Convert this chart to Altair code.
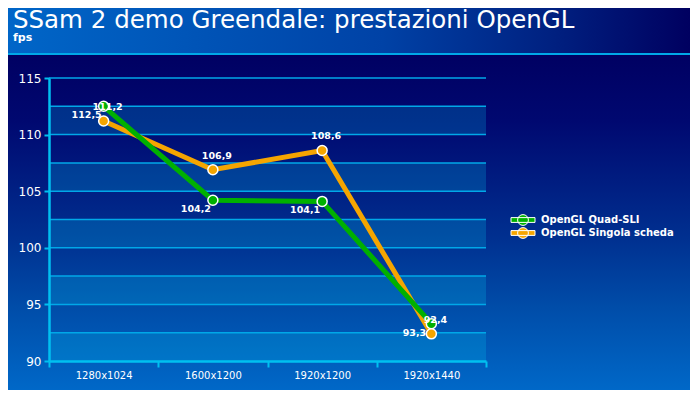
import altair as alt
import pandas as pd

# ---------------- data ----------------
resolutions = ["1280x1024", "1600x1200", "1920x1200", "1920x1440"]
series_names = ["OpenGL Quad-SLI", "OpenGL Singola scheda"]
quad_sli = [112.5, 104.2, 104.1, 93.3]
singola = [111.2, 106.9, 108.6, 92.4]
series_colors = ["#00b000", "#f5a500"]

y_ticks = [90, 95, 100, 105, 110, 115]
grid_levels = [92.5, 95, 97.5, 100, 102.5, 105, 107.5, 110, 112.5, 115]
stripe_low = [90, 95, 100, 105, 110]
stripe_high = [92.5, 97.5, 102.5, 107.5, 112.5]

title_text = "SSam 2 demo Greendale: prestazioni OpenGL"
subtitle_text = "fps"

FONT = "DejaVu Sans"
W, H = 437, 283
PAD = {"left": 41, "top": 70, "right": 204, "bottom": 29}

rows = []
for name, vals in zip(series_names, [quad_sli, singola]):
    for r, v in zip(resolutions, vals):
        rows.append({"res": r, "fps": v, "serie": name,
                     "label": f"{v:.1f}".replace(".", ",")})
df = pd.DataFrame(rows)
stripes_df = pd.DataFrame({"lo": stripe_low, "hi": stripe_high})
grid_df = pd.DataFrame({"g": grid_levels})
one = pd.DataFrame({"k": [0]})

y_scale = alt.Scale(domain=[90, 115], nice=False, zero=False)
x_scale = alt.Scale(type="band", domain=resolutions, paddingInner=0, paddingOuter=0)

y_axis = alt.Axis(values=y_ticks, domainColor="#00c0f0", domainWidth=2.5,
                  tickColor="#00c0f0", tickWidth=2, tickSize=5,
                  labelColor="white", labelFont=FONT, labelFontSize=12,
                  labelPadding=3, grid=False, zindex=1, title=None)
x_axis = alt.Axis(tickBand="extent", domainColor="#00c0f0", domainWidth=2.5,
                  tickColor="#00c0f0", tickWidth=2, tickSize=6,
                  labelColor="white", labelFont=FONT, labelFontSize=10,
                  labelPadding=3, labelAngle=0, grid=False, zindex=1, title=None)


def grad(stops, horizontal):
    return alt.Gradient(
        gradient="linear",
        stops=[alt.GradientStop(color=c, offset=o) for o, c in stops],
        x1=0, y1=0, x2=1 if horizontal else 0, y2=0 if horizontal else 1,
    )


# ---------------- background decoration ----------------
bg_header = alt.Chart(one).mark_rect(
    fill=grad([(0, "#0066c8"), (0.55, "#0042a6"), (0.8, "#002080"), (1, "#000060")], True)
).encode(x=alt.value(-PAD["left"]), x2=alt.value(W + PAD["right"]),
         y=alt.value(-PAD["top"]), y2=alt.value(-25))

bg_body = alt.Chart(one).mark_rect(
    fill=grad([(0, "#000062"), (0.2, "#000870"), (0.55, "#003090"),
               (0.75, "#004ca8"), (1, "#0068c8")], False)
).encode(x=alt.value(-PAD["left"]), x2=alt.value(W + PAD["right"]),
         y=alt.value(-25), y2=alt.value(H + PAD["bottom"]))

header_line = alt.Chart(one).mark_rect(fill="#00a8e8").encode(
    x=alt.value(-PAD["left"]), x2=alt.value(W + PAD["right"]),
    y=alt.value(-25), y2=alt.value(-23))

title_mark = alt.Chart(one).mark_text(
    text=title_text, font=FONT, fontSize=24.5, color="white",
    align="left", baseline="alphabetic"
).encode(x=alt.value(-36), y=alt.value(-50))

subtitle_mark = alt.Chart(one).mark_text(
    text=subtitle_text, font=FONT, fontSize=11, fontWeight="bold", color="white",
    align="left", baseline="alphabetic"
).encode(x=alt.value(-36), y=alt.value(-37))

# ---------------- plot area ----------------
stripes = alt.Chart(stripes_df).mark_rect(fill="#00c8f0", opacity=0.22).encode(
    x=alt.value(0), x2=alt.value(W),
    y=alt.Y("lo:Q", scale=y_scale, axis=y_axis), y2="hi:Q")

grid = alt.Chart(grid_df).mark_rule(color="#00a8e8", strokeWidth=1.5).encode(
    x=alt.value(0), x2=alt.value(W),
    y=alt.Y("g:Q", scale=y_scale, axis=y_axis))

base = alt.Chart(df)

x_enc = alt.X("res:N", scale=x_scale, sort=resolutions, axis=x_axis)
y_enc = alt.Y("fps:Q", scale=y_scale, axis=y_axis)

fill_enc = alt.Fill("serie:N", scale=alt.Scale(domain=series_names, range=series_colors),
                    legend=alt.Legend(
                        title=None, orient="none", legendX=469, legendY=137,
                        symbolType="M-3,-0.6 L3,-0.6 L3,0.6 L-3,0.6 Z "
                                   "M-1.35,0 A1.35,1.35 0 1,1 1.35,0 A1.35,1.35 0 1,1 -1.35,0 Z",
                        symbolSize=64, symbolStrokeColor="white", symbolStrokeWidth=1,
                        labelColor="white", labelFont=FONT, labelFontSize=10,
                        labelFontWeight="bold", labelOffset=13, rowPadding=-3,
                        zindex=1))

green_df = base.transform_filter(alt.datum.serie == series_names[0])
orange_df = base.transform_filter(alt.datum.serie == series_names[1])

line_orange = orange_df.mark_line(strokeWidth=5, color=series_colors[1]).encode(x=x_enc, y=y_enc)
line_green = green_df.mark_line(strokeWidth=5, color=series_colors[0]).encode(x=x_enc, y=y_enc)

pts_green = green_df.mark_point(
    filled=True, size=100, stroke="white", strokeWidth=1.5, opacity=1, shape="circle"
).encode(x=x_enc, y=y_enc, fill=fill_enc)
pts_orange = orange_df.mark_point(
    filled=True, size=100, stroke="white", strokeWidth=1.5, opacity=1, shape="circle"
).encode(x=x_enc, y=y_enc, fill=fill_enc)

lab_green = green_df.mark_text(
    font=FONT, fontSize=9.5, fontWeight="bold", color="white",
    align="center", baseline="middle", dx=-17, dy=9
).encode(x=x_enc, y=y_enc, text="label:N")
lab_orange = orange_df.mark_text(
    font=FONT, fontSize=9.5, fontWeight="bold", color="white",
    align="center", baseline="middle", dx=4, dy=-14
).encode(x=x_enc, y=y_enc, text="label:N")

chart = alt.layer(
    bg_header, bg_body, header_line, title_mark, subtitle_mark,
    stripes, grid, line_orange, line_green, pts_green, pts_orange,
    lab_green, lab_orange
).properties(
    width=W, height=H, padding=PAD, autosize=alt.AutoSizeParams(type="none")
).configure_view(stroke=None).configure(background="#002a8a")

chart.save("out.html", embed_options={"renderer": "svg", "actions": False})
